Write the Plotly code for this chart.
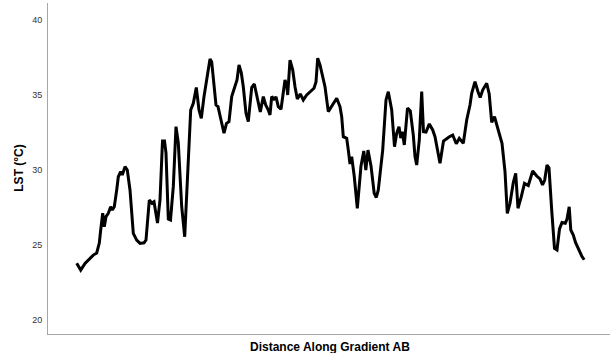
import plotly.graph_objects as go

# Transect profile: land surface temperature sampled along gradient A -> B
distance = [
    0.0, 4.0, 8.3, 13.3, 16.6, 20.0, 22.6, 24.0, 26.0, 27.6, 29.3, 31.6, 34.0, 35.6, 37.6,
    40.0, 41.6, 44.0, 45.6, 48.3, 50.6, 53.3, 55.0, 56.6, 60.0, 63.3, 67.3, 69.3, 72.6,
    75.0, 77.3, 80.8, 83.3, 85.8, 87.8, 89.3, 91.6, 93.8, 96.6, 99.3, 101.6, 105.0, 108.0,
    110.6, 114.0, 116.6, 119.6, 122.3, 124.6, 127.3, 130.0, 133.3, 135.0, 137.3, 139.3,
    141.3, 145.0, 147.3, 149.8, 152.3, 155.0, 158.3, 160.3, 162.3, 164.6, 166.6, 169.3,
    171.6, 175.0, 177.6, 180.6, 183.6, 186.6, 189.0, 191.6, 193.3, 195.0, 197.3, 199.3,
    201.6, 204.3, 206.6, 208.3, 210.0, 211.0, 213.3, 216.0, 218.3, 220.6, 223.6, 226.6,
    230.0, 233.3, 237.3, 239.3, 241.0, 243.3, 245.0, 248.3, 251.6, 255.0, 260.0, 263.3,
    265.0, 266.6, 270.0, 271.6, 273.3, 275.0, 277.6, 280.6, 284.3, 287.1, 289.1, 291.3,
    294.3, 297.5, 299.6, 301.6, 306.0, 309.3, 311.6, 315.0, 317.8, 320.0, 322.3, 324.0,
    325.6, 327.6, 330.8, 333.6, 336.6, 338.3, 340.0, 342.6, 345.0, 346.8, 349.3, 352.6,
    356.0, 358.3, 361.6, 363.3, 366.8, 370.0, 372.3, 376.0, 379.6, 382.6, 386.6, 390.0,
    393.3, 395.0, 398.3, 401.3, 403.5, 406.0, 410.0, 412.5, 415.0, 417.8, 421.6, 425.3,
    428.3, 430.6, 433.3, 436.6, 439.0, 441.3, 444.6, 447.8, 451.6, 456.0, 460.0, 463.3,
    465.8, 468.0, 470.3, 472.3, 475.0, 477.8, 480.3, 482.8, 485.3, 488.6, 490.3, 492.5,
    494.1, 496.6, 498.8, 501.6, 505.0, 507.5,
]

lst = [
    23.78, 23.33, 23.78, 24.13, 24.33, 24.47, 25.13, 26.00, 27.13, 26.22, 26.89, 27.11, 27.55, 27.33, 27.55,
    28.67, 29.55, 29.89, 29.67, 30.22, 30.00, 28.67, 27.33, 25.78, 25.33, 25.11, 25.15, 25.33, 28.00,
    27.80, 27.89, 26.47, 28.00, 31.93, 31.93, 31.13, 26.73, 26.67, 28.89, 32.89, 31.80, 27.55, 25.55,
    28.89, 34.00, 34.45, 35.50, 34.00, 33.45, 34.89, 35.93, 37.40, 37.20, 35.78, 34.33,
    34.22, 33.11, 32.45, 33.11, 33.22, 34.89, 35.55, 36.00, 37.00, 36.47, 35.55, 33.78,
    33.22, 35.50, 35.73, 34.89, 33.87, 34.89, 34.33, 34.00, 33.67, 34.89, 34.73, 34.87,
    34.22, 34.05, 35.11, 36.00, 35.67, 35.00, 37.33, 36.67, 35.55, 34.73, 35.07, 34.67,
    35.00, 35.20, 35.45, 35.87, 37.45, 37.00, 36.45, 35.55, 33.89, 34.27, 34.78, 34.22,
    33.55, 32.22, 32.11, 31.33, 30.40, 30.89, 29.55, 27.45, 30.27, 31.27, 30.00, 31.33,
    30.27, 28.45, 28.17, 28.67, 31.33, 34.67, 35.22, 34.00, 31.55, 32.45, 32.89, 32.13,
    32.55, 31.67, 34.13, 33.93, 32.33, 30.89, 30.33, 32.00, 35.22, 32.55, 32.53, 33.07,
    32.67, 32.22, 31.11, 30.45, 31.93, 32.11, 32.20, 32.33, 31.75, 32.11, 31.78, 33.33,
    34.33, 35.11, 35.89, 35.22, 34.83, 35.33, 35.78, 35.07, 33.17, 33.55, 32.60, 31.78,
    29.90, 27.11, 27.78, 29.17, 29.78, 27.45, 28.22, 29.11, 28.97, 29.93, 29.60, 29.40,
    29.00, 29.33, 30.33, 30.13, 27.33, 24.78, 24.67, 26.07, 26.50, 26.45, 26.73, 27.55,
    26.00, 25.67, 25.17, 24.73, 24.27, 24.02,
]

y_ticks = [20, 25, 30, 35, 40]

fig = go.Figure(
    go.Scatter(
        x=distance,
        y=lst,
        mode="lines",
        line=dict(color="black", width=3),
        hoverinfo="skip",
    )
)

fig.update_layout(
    width=610,
    height=353,
    margin=dict(l=48, r=0, t=3, b=19),
    paper_bgcolor="white",
    plot_bgcolor="white",
    showlegend=False,
    font=dict(family="Liberation Sans, Arial, sans-serif"),
)

fig.update_xaxes(
    range=[-28.7, 533.3],
    showgrid=False,
    zeroline=False,
    showticklabels=False,
    ticks="",
    showline=True,
    linecolor="#a6a6a6",
    linewidth=1,
)

fig.update_yaxes(
    range=[19.07, 41.13],
    tickvals=y_ticks,
    ticktext=[str(v) for v in y_ticks],
    showgrid=False,
    zeroline=False,
    ticks="",
    showline=True,
    linecolor="#a6a6a6",
    linewidth=1,
    tickfont=dict(size=9, color="#333333"),
    ticklabelstandoff=3,
)

# Axis titles
fig.add_annotation(
    text="<b>Distance Along Gradient AB</b>",
    xref="paper", yref="paper",
    x=0.502, y=-0.038,
    xanchor="center", yanchor="middle",
    showarrow=False,
    font=dict(size=12, color="black"),
)
fig.add_annotation(
    text="<b>LST (°C)</b>",
    xref="paper", yref="paper",
    x=-0.037, y=0.5,
    xanchor="right", yanchor="middle",
    textangle=-90,
    showarrow=False,
    font=dict(size=12, color="black"),
)

fig.write_html("out.html")
